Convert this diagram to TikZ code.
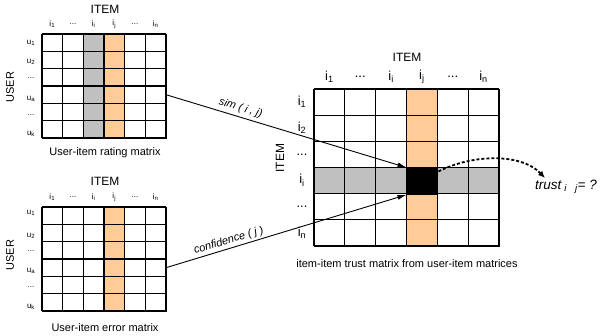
\documentclass[tikz,border=0pt]{standalone}
\usepackage{fontspec}
\setmainfont{Liberation Sans}
\usetikzlibrary{arrows.meta}
\definecolor{peach}{HTML}{FFCC99}
\definecolor{cellgrey}{HTML}{C0C0C0}
\newcommand\myfsS{\fontsize{8}{9}\selectfont}
\newcommand\myfsC{\fontsize{11}{13}\selectfont}
\newcommand\myfsT{\fontsize{12}{14}\selectfont}
\newcommand\myfsB{\fontsize{13}{15}\selectfont}
\newcommand\sub[1]{\textsubscript{#1}}
\newcommand\mydots{...}
\begin{document}
\begin{tikzpicture}[x=1pt,y=-1pt,
  gridline/.style={line width=1.1pt,black},
  lbl/.style={inner sep=0pt},
  frame/.style={draw,line width=1.1pt,inner sep=0pt,anchor=north west},
  conn/.style={line width=0.9pt,-{Latex[length=9pt,width=5pt]}},
  curvy/.style={line width=1.8pt,densely dashed,-{Latex[length=7pt,width=6pt]}}]
\useasboundingbox (0,0) rectangle (607,335);

% ---------- top-left rating matrix ----------
\fill[cellgrey] (42+2*20.667,34) rectangle (42+3*20.667,138);
\fill[peach] (42+3*20.667,34) rectangle (42+4*20.667,138);
\foreach \k in {0,...,6}{
  \draw[gridline] (42+\k*20.667,34) -- (42+\k*20.667,138);
  \draw[gridline] (42,34+\k*17.333) -- (166,34+\k*17.333);}
\node[frame,minimum width=124pt,minimum height=104pt] (RM) at (42,34) {};
\node[lbl] (RMt) at (105,9) {\myfsT ITEM};
\foreach \t [count=\c from 0] in {i\sub{1},\mydots,i\sub{i},i\sub{j},\mydots,i\sub{n}}
  \node[lbl] (RMc\c) at (52.3+\c*20.667,24) {\myfsS \t};
\node[lbl] (RMr1) at (31,43) {\myfsS u\sub{1}};
\node[lbl] (RMr2) at (31,62) {\myfsS u\sub{2}};
\node[lbl] (RMr3) at (31,78) {\myfsS \mydots};
\node[lbl] (RMr4) at (31,99) {\myfsS u\sub{a}};
\node[lbl] (RMr5) at (31,115) {\myfsS \mydots};
\node[lbl] (RMr6) at (31,134) {\myfsS u\sub{k}};
\node[lbl,rotate=90] (RMu) at (10,87) {\myfsC USER};
\node[lbl] (RMcap) at (105,153) {\myfsC User-item rating matrix};

% ---------- bottom-left error matrix ----------
\fill[peach] (42+3*20.667,207) rectangle (42+4*20.667,311);
\foreach \k in {0,...,6}{
  \draw[gridline] (42+\k*20.667,207) -- (42+\k*20.667,311);
  \draw[gridline] (42,207+\k*17.333) -- (166,207+\k*17.333);}
\draw[line width=1.6pt] (42,276.3) -- (42+5*20.667,276.3);
\node[frame,minimum width=124pt,minimum height=104pt] (EM) at (42,207) {};
\node[lbl] (EMt) at (105,181) {\myfsT ITEM};
\foreach \t [count=\c from 0] in {i\sub{1},\mydots,i\sub{i},i\sub{j},\mydots,i\sub{n}}
  \node[lbl] (EMc\c) at (52.3+\c*20.667,197) {\myfsS \t};
\node[lbl] (EMr1) at (31,213) {\myfsS u\sub{1}};
\node[lbl] (EMr2) at (31,236) {\myfsS u\sub{2}};
\node[lbl] (EMr3) at (31,251) {\myfsS \mydots};
\node[lbl] (EMr4) at (31,271) {\myfsS u\sub{a}};
\node[lbl] (EMr5) at (31,287) {\myfsS \mydots};
\node[lbl] (EMr6) at (31,307) {\myfsS u\sub{k}};
\node[lbl,rotate=90] (EMu) at (10,255) {\myfsC USER};
\node[lbl] (EMcap) at (105,328) {\myfsC User-item error matrix};

% ---------- big trust matrix ----------
\fill[cellgrey] (314,89+3*26.167) rectangle (499,89+4*26.167);
\fill[peach] (314+3*30.833,89) rectangle (314+4*30.833,246);
\foreach \k in {0,...,6}{
  \draw[gridline] (314+\k*30.833,89) -- (314+\k*30.833,246);
  \draw[gridline] (314,89+\k*26.167) -- (499,89+\k*26.167);}
\node[frame,minimum width=185pt,minimum height=157pt] (TM) at (314,89) {};
\node[frame,fill=black,minimum width=30.833pt,minimum height=26.167pt] (B) at (314+3*30.833,89+3*26.167) {};
\node[lbl] (TMt) at (407,57) {\myfsT ITEM};
\foreach \t [count=\c from 0] in {i\sub{1},\mydots,i\sub{i},i\sub{j},\mydots,i\sub{n}}
  \node[lbl] (TMc\c) at (329.4+\c*30.833,77) {\myfsB \t};
\foreach \t [count=\c from 0] in {i\sub{1},i\sub{2},\mydots,i\sub{i},\mydots,i\sub{n}}
  \node[lbl] (TMr\c) at (302,102+\c*26.167) {\myfsB \t};
\node[lbl,rotate=90] (TMi) at (280,158) {\myfsT ITEM};
\node[lbl] (TMcap) at (407,264) {\myfsC item-item trust matrix from user-item matrices};

% ---------- connectors ----------
\coordinate (simS) at (166,94.7);
\coordinate (confS) at (166,267.7);
\draw[conn] (simS) -- node[pos=0.3,sloped,above=3pt,lbl] {\myfsC\itshape sim ( i , j)} (B.north west);
\draw[conn] (confS) -- node[pos=0.27,sloped,above=2pt,lbl] {\myfsC\itshape confidence ( j )} (B.south west);

\node[lbl,anchor=west] (T) at (535,187) {\fontsize{13.5}{15}\selectfont\itshape trust\hspace{3pt}\sub{i}\hspace{8pt}\sub{j}= ?};
\draw[curvy] ([yshift=-4pt]B.north east) .. controls (470,155) and (520,152) .. ([xshift=10pt,yshift=2pt]T.north west);
\end{tikzpicture}
\end{document}
